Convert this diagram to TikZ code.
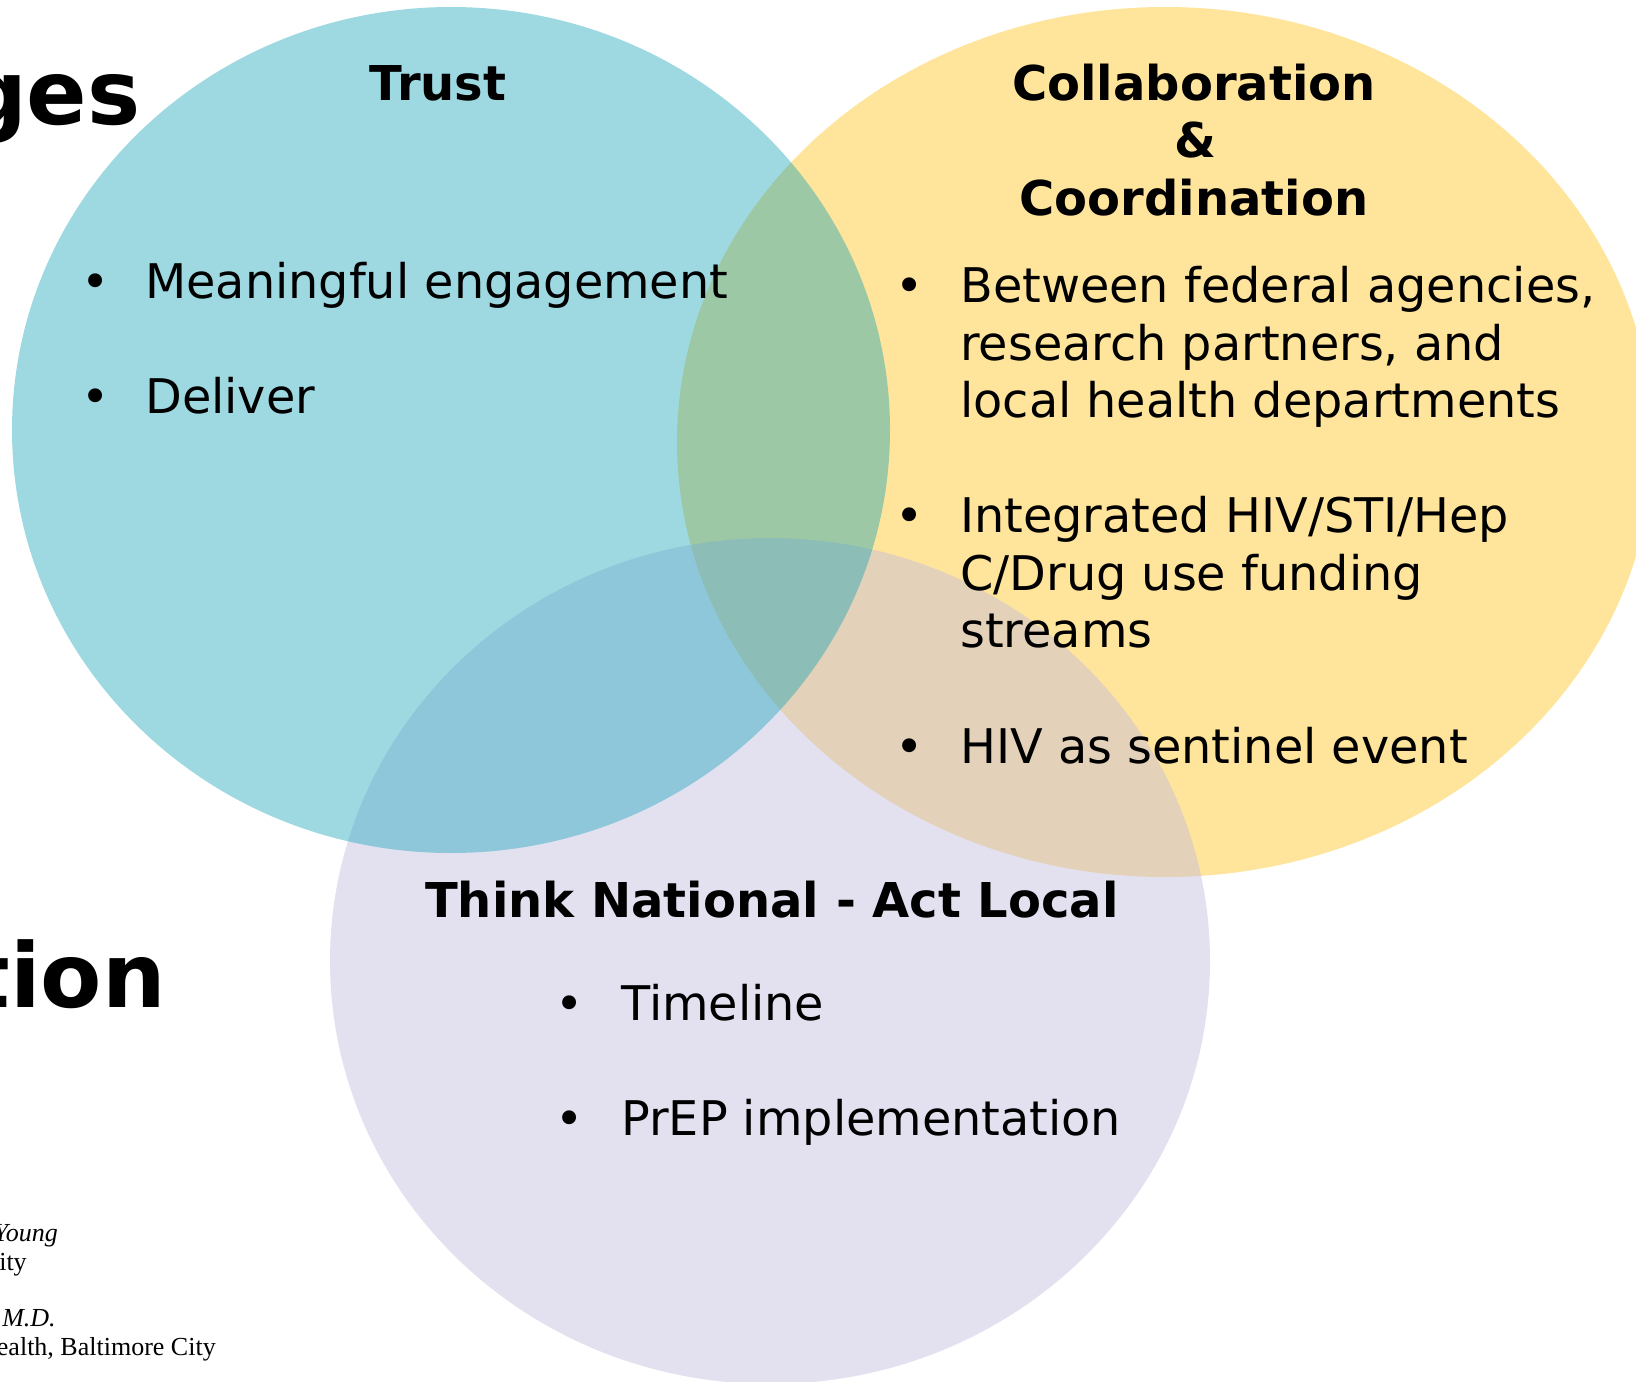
\documentclass[tikz,border=0pt]{standalone}
\usepackage{fontspec}
\setmainfont{DejaVu Sans}
\newfontfamily\namefont{Liberation Serif}
\definecolor{trustblue}{RGB}{12,160,182}
\definecolor{collabyellow}{RGB}{255,228,155}
\definecolor{localpurple}{RGB}{193,188,222}

\begin{document}
\begin{tikzpicture}[x=0.75pt,y=0.75pt,yscale=-1,xscale=1,
  head/.style={font=\fontsize{36}{43}\selectfont\bfseries,inner sep=0pt,anchor=base},
  item/.style={font=\fontsize{35.8}{43}\selectfont,inner sep=0pt,anchor=base west},
  dot/.style={font=\fontsize{35.8}{43}\selectfont,inner sep=0pt,anchor=base},
  bigword/.style={font=\fontsize{67}{80}\selectfont\bfseries,inner sep=0pt,anchor=base east},
  sig/.style={font=\namefont\fontsize{19.5}{23}\selectfont,inner sep=0pt,anchor=base east}]
%set diagram size 1636 x 1382
\useasboundingbox (0,0) rectangle (1636,1382);

%Shape: Ellipse [collaboration]
\fill [collabyellow] (1165,442) ellipse (488 and 435);
%Shape: Ellipse [think national]
\fill [localpurple,fill opacity=0.45] (770,961) ellipse (440 and 423);
%Shape: Ellipse [trust]
\fill [trustblue,fill opacity=0.4] (451,430) ellipse (439 and 423);

% Text Node
\draw (141,124) node [bigword] (ges) {ges};
% Text Node
\draw (166,1007) node [bigword] (tion) {tion};

% Text Node
\draw (438,100) node [head] (trust) {Trust};
% Text Node
\draw (96,298) node [dot] (dotA) {•};
\draw (145,298) node [item] (meaning) {Meaningful engagement};
% Text Node
\draw (96,413) node [dot] (dotB) {•};
\draw (145,413) node [item] (deliver) {Deliver};

% Text Node
\draw (1194,100) node [head] (collab) {Collaboration};
\draw (1195,157) node [head] (amp) {\&};
\draw (1194,215) node [head] (coord) {Coordination};
% Text Node
\draw (910,302) node [dot] (dotC) {•};
\draw (960,302) node [item] (betweenA) {Between federal agencies,};
\draw (960,360) node [item] (betweenB) {research partners, and};
\draw (960,417) node [item] (betweenC) {local health departments};
% Text Node
\draw (910,532) node [dot] (dotD) {•};
\draw (960,532) node [item] (fundA) {Integrated HIV/STI/Hep};
\draw (960,590) node [item] (fundB) {C/Drug use funding};
\draw (960,647) node [item] (fundC) {streams};
% Text Node
\draw (910,763) node [dot] (dotE) {•};
\draw (960,763) node [item] (sentinel) {HIV as sentinel event};

% Text Node
\draw (772,917) node [head] (think) {Think National - Act Local};
% Text Node
\draw (570,1020) node [dot] (dotF) {•};
\draw (621,1020) node [item] (timeline) {Timeline};
% Text Node
\draw (570,1135) node [dot] (dotG) {•};
\draw (621,1135) node [item] (prep) {PrEP implementation};

% Text Node
\draw (58,1241) node [sig] (young) {\textit{Young}};
\draw (27,1270) node [sig] (city) {ity};
\draw (56,1326) node [sig] (md) {\textit{M.D.}};
\draw (216,1355) node [sig] (health) {ealth, Baltimore City};

\end{tikzpicture}
\end{document}
